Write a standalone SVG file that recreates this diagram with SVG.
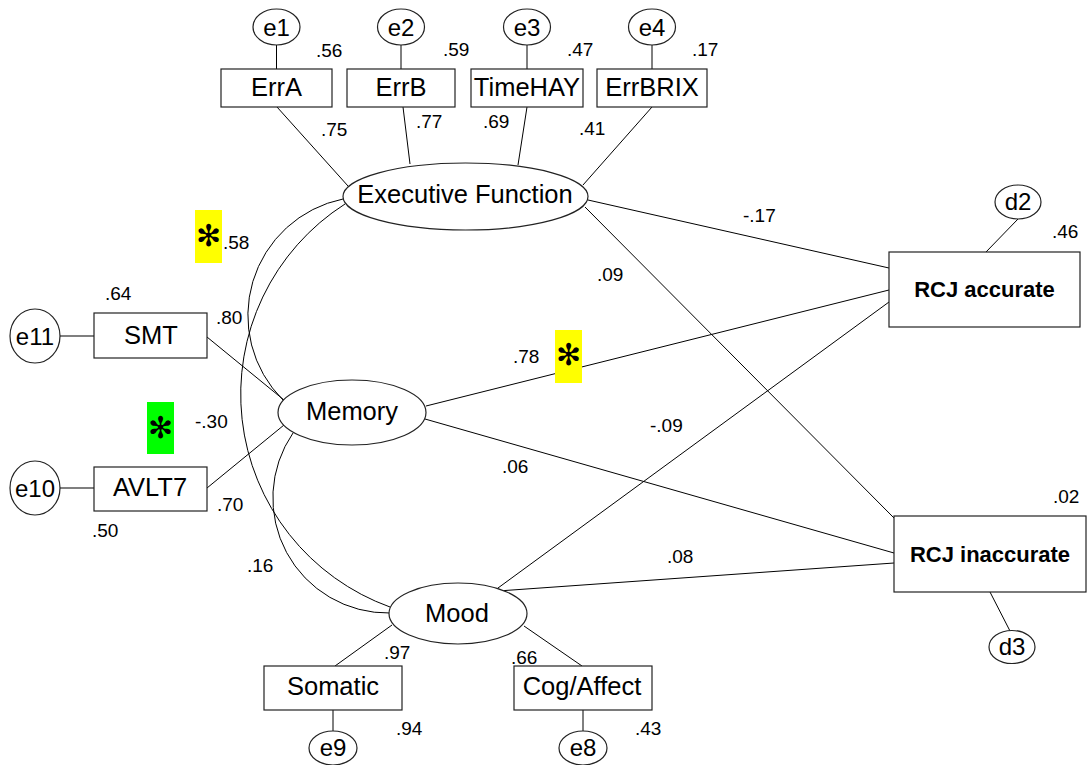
<svg xmlns="http://www.w3.org/2000/svg" width="1089" height="765" viewBox="0 0 1089 765">
  <style>
    .ln { stroke: #000; stroke-width: 1; fill: none; }
    .err { stroke: #555; stroke-width: 1.6; fill: none; }
    .box { fill: #fff; stroke: #222; stroke-width: 1.2; }
    .ell { fill: #fff; stroke: #222; stroke-width: 1.2; }
    .lbl { font-family: "Liberation Sans", Arial, sans-serif; font-size: 25.5px; fill: #000; text-anchor: middle; }
    .el { font-family: "Liberation Sans", Arial, sans-serif; font-size: 24px; fill: #000; text-anchor: middle; }
    .bold { font-family: "Liberation Sans", Arial, sans-serif; font-size: 22px; font-weight: bold; fill: #000; text-anchor: middle; }
    .num { font-family: "Liberation Sans", Arial, sans-serif; font-size: 19px; fill: #000; }
    .star { font-family: "DejaVu Sans", sans-serif; font-size: 30px; fill: #000; text-anchor: middle; }
  </style>
  <rect width="1089" height="765" fill="#fff"/>

  <!-- paths, loadings and covariances -->
  <g id="connectors">
    <line class="ln" x1="276.5" y1="45" x2="276.5" y2="69"/>
    <line class="ln" x1="401" y1="45" x2="401" y2="69"/>
    <line class="ln" x1="527" y1="45" x2="527" y2="69"/>
    <line class="ln" x1="652" y1="45" x2="652" y2="69"/>
    <line class="ln" x1="277" y1="107" x2="348" y2="186"/>
    <line class="ln" x1="403" y1="107" x2="410" y2="164"/>
    <line class="ln" x1="527" y1="107" x2="518" y2="165"/>
    <line class="ln" x1="652" y1="107" x2="583" y2="185"/>
    <line class="ln" x1="588" y1="200" x2="889" y2="268"/>
    <line class="ln" x1="585" y1="207" x2="894" y2="518"/>
    <line class="ln" x1="426" y1="406" x2="889" y2="290"/>
    <line class="ln" x1="425" y1="419" x2="894" y2="553"/>
    <line class="ln" x1="498" y1="588" x2="889" y2="302"/>
    <line class="ln" x1="498" y1="591" x2="894" y2="563"/>
    <line class="ln" x1="207" y1="337" x2="284" y2="400"/>
    <line class="ln" x1="207" y1="488" x2="284" y2="425"/>
    <line class="err" x1="60" y1="336" x2="94" y2="336"/>
    <line class="err" x1="60" y1="488" x2="94" y2="488"/>
    <line class="ln" x1="392" y1="625" x2="335" y2="666"/>
    <line class="ln" x1="524" y1="626" x2="582" y2="666"/>
    <line class="ln" x1="333" y1="710" x2="333" y2="731"/>
    <line class="ln" x1="583" y1="710" x2="583" y2="731"/>
    <line class="ln" x1="1018" y1="219" x2="986" y2="252"/>
    <line class="ln" x1="990" y1="592" x2="1010" y2="631"/>
    <!-- covariance arcs -->
    <path class="ln" d="M343,199 A119,119 0 0 0 283,400"/>
    <path class="ln" d="M345,204 A226,226 0 0 0 390,607"/>
    <path class="ln" d="M293,433 A115,115 0 0 0 390,613"/>
  </g>

  <!-- highlight markers -->
  <g id="mark-1">
    <rect x="195" y="210" width="27" height="53" fill="#ffff00"/>
    <text class="star" x="208.5" y="246">✻</text>
  </g>
  <g id="mark-2">
    <rect x="555" y="330" width="27" height="53" fill="#ffff00"/>
    <text class="star" x="568.5" y="365">✻</text>
  </g>
  <g id="mark-3">
    <rect x="147" y="402" width="27" height="52" fill="#00ff00"/>
    <text class="star" x="160.5" y="438">✻</text>
  </g>

  <!-- executive function indicators -->
  <g id="e1"><ellipse class="ell" cx="276.5" cy="27" rx="23.5" ry="18"/><text class="el" x="276.5" y="35.5">e1</text></g>
  <g id="e2"><ellipse class="ell" cx="401" cy="27" rx="23.5" ry="18"/><text class="el" x="401" y="35.5">e2</text></g>
  <g id="e3"><ellipse class="ell" cx="527" cy="27" rx="23.5" ry="18"/><text class="el" x="527" y="35.5">e3</text></g>
  <g id="e4"><ellipse class="ell" cx="652" cy="27" rx="23.5" ry="18"/><text class="el" x="652" y="35.5">e4</text></g>
  <g id="ErrA"><rect class="box" x="221" y="69" width="111" height="38"/><text class="lbl" x="276.5" y="96">ErrA</text></g>
  <g id="ErrB"><rect class="box" x="347" y="69" width="108" height="38"/><text class="lbl" x="401" y="96">ErrB</text></g>
  <g id="TimeHAY"><rect class="box" x="471" y="69" width="112" height="38"/><text class="lbl" x="527" y="96">TimeHAY</text></g>
  <g id="ErrBRIX"><rect class="box" x="597" y="69" width="110" height="38"/><text class="lbl" x="652" y="96">ErrBRIX</text></g>

  <!-- latent variables -->
  <g id="ExecutiveFunction"><ellipse class="ell" cx="465.5" cy="196.5" rx="122.5" ry="33.5"/><text class="lbl" x="465" y="203">Executive Function</text></g>
  <g id="Memory"><ellipse class="ell" cx="352" cy="412.5" rx="74" ry="32.5"/><text class="lbl" x="352" y="420">Memory</text></g>
  <g id="Mood"><ellipse class="ell" cx="458" cy="613.5" rx="69" ry="30.5"/><text class="lbl" x="457" y="622">Mood</text></g>

  <!-- memory indicators -->
  <g id="e11"><ellipse class="ell" cx="35" cy="336" rx="25" ry="27"/><text class="el" x="35" y="344.5">e11</text></g>
  <g id="e10"><ellipse class="ell" cx="35" cy="488" rx="25" ry="27"/><text class="el" x="35" y="496.5">e10</text></g>
  <g id="SMT"><rect class="box" x="94" y="313" width="113" height="45"/><text class="lbl" x="151" y="344">SMT</text></g>
  <g id="AVLT7"><rect class="box" x="94" y="467" width="113" height="44"/><text class="lbl" x="150" y="496">AVLT7</text></g>

  <!-- mood indicators -->
  <g id="Somatic"><rect class="box" x="264" y="666" width="138" height="44"/><text class="lbl" x="333" y="695">Somatic</text></g>
  <g id="CogAffect"><rect class="box" x="514" y="666" width="138" height="44"/><text class="lbl" x="582" y="695">Cog/Affect</text></g>
  <g id="e9"><ellipse class="ell" cx="333" cy="748" rx="24" ry="17"/><text class="el" x="333" y="756">e9</text></g>
  <g id="e8"><ellipse class="ell" cx="583" cy="748" rx="24" ry="17"/><text class="el" x="583" y="756">e8</text></g>

  <!-- outcomes -->
  <g id="RCJaccurate"><rect class="box" x="889" y="252" width="191" height="75"/><text class="bold" x="984.5" y="297">RCJ accurate</text></g>
  <g id="RCJinaccurate"><rect class="box" x="894" y="516" width="192" height="76"/><text class="bold" x="990" y="562">RCJ inaccurate</text></g>
  <g id="d2"><ellipse class="ell" cx="1018" cy="202" rx="23" ry="17"/><text class="el" x="1018" y="210">d2</text></g>
  <g id="d3"><ellipse class="ell" cx="1012" cy="647" rx="23" ry="16.5"/><text class="el" x="1012" y="655">d3</text></g>

  <!-- coefficients -->
  <g id="coefficients">
    <text class="num" x="316" y="57">.56</text>
    <text class="num" x="443" y="56">.59</text>
    <text class="num" x="567" y="56">.47</text>
    <text class="num" x="692" y="56">.17</text>
    <text class="num" x="321" y="136">.75</text>
    <text class="num" x="416" y="128">.77</text>
    <text class="num" x="483" y="128">.69</text>
    <text class="num" x="579" y="135">.41</text>
    <text class="num" x="223" y="249">.58</text>
    <text class="num" x="743" y="222">-.17</text>
    <text class="num" x="1052" y="238">.46</text>
    <text class="num" x="597" y="281">.09</text>
    <text class="num" x="105" y="300">.64</text>
    <text class="num" x="216" y="324">.80</text>
    <text class="num" x="513" y="363">.78</text>
    <text class="num" x="195" y="428">-.30</text>
    <text class="num" x="650" y="432">-.09</text>
    <text class="num" x="502" y="473">.06</text>
    <text class="num" x="1053" y="503">.02</text>
    <text class="num" x="217" y="511">.70</text>
    <text class="num" x="92" y="537">.50</text>
    <text class="num" x="667" y="563">.08</text>
    <text class="num" x="247" y="572">.16</text>
    <text class="num" x="384" y="659">.97</text>
    <text class="num" x="511" y="664">.66</text>
    <text class="num" x="396" y="735">.94</text>
    <text class="num" x="635" y="735">.43</text>
  </g>
</svg>
